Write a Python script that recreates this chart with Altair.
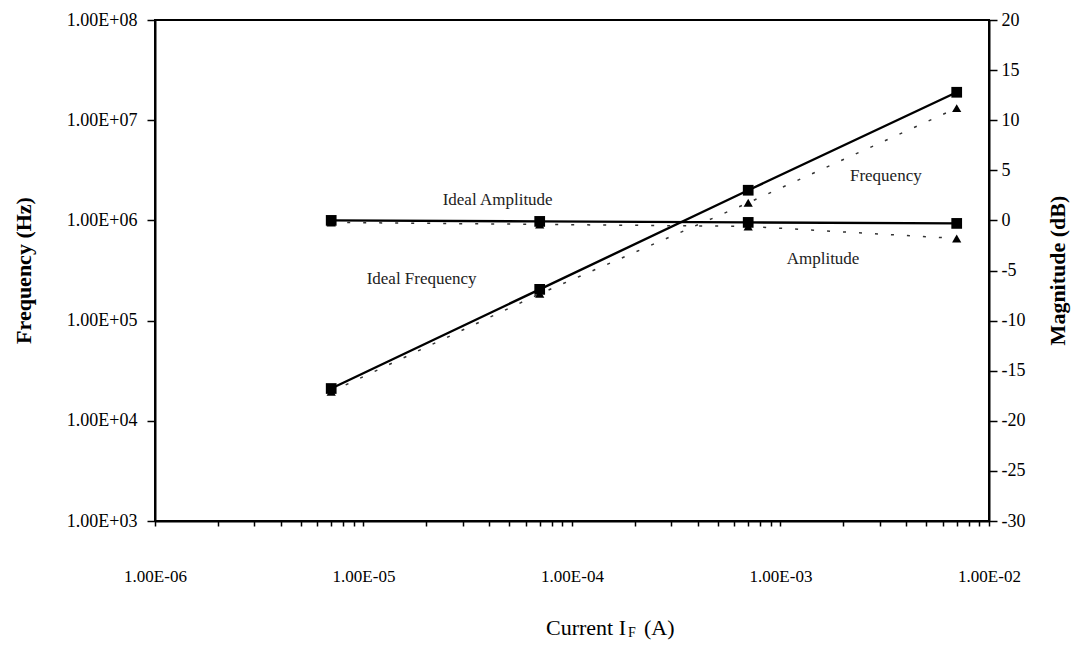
import altair as alt
import pandas as pd

# ---- data ----
currents = [7.0e-6, 7.0e-5, 7.0e-4, 7.0e-3]
ideal_frequency = [2.1e4, 2.05e5, 2.0e6, 1.9e7]
measured_frequency = [1.95e4, 1.85e5, 1.5e6, 1.32e7]
ideal_amplitude = [0.0, -0.1, -0.2, -0.3]
measured_amplitude = [-0.2, -0.4, -0.6, -1.8]

x_ticks = [m * 10.0 ** e for e in range(-6, -2) for m in range(1, 10)] + [1e-2]
left_ticks = [1e3, 1e4, 1e5, 1e6, 1e7, 1e8]
right_ticks = list(range(-30, 21, 5))

note_text = ["Ideal Amplitude", "Amplitude", "Frequency", "Ideal Frequency"]
note_x = [4.4e-5, 1.6e-3, 3.2e-3, 1.9e-5]
note_db = [2.0, -3.9, 4.4, -5.8]

x_title_parts = ["Current I", "F", "(A)"]

FONT = "Liberation Serif"
W, H = 834, 501

freq_df = pd.DataFrame({
    "current": currents * 2,
    "freq": ideal_frequency + measured_frequency,
    "series": ["Ideal"] * 4 + ["Measured"] * 4,
})
amp_df = pd.DataFrame({
    "current": currents * 2,
    "db": ideal_amplitude + measured_amplitude,
    "series": ["Ideal"] * 4 + ["Measured"] * 4,
})
notes_df = pd.DataFrame({"text": note_text, "current": note_x, "db": note_db})

x_enc = alt.X(
    "current:Q",
    scale=alt.Scale(type="log", domain=[1e-6, 1e-2]),
    axis=alt.Axis(
        values=x_ticks,
        labelExpr="abs(log(datum.value)/LN10 - round(log(datum.value)/LN10)) < 0.001 ? '1.00E-0' + (-round(log(datum.value)/LN10)) : ''",
        tickSize=5,
        labelPadding=42,
        labelFontSize=17,
        title=None,
        labelFlush=False,
        labelOverlap=False,
    ),
)

y_freq = alt.Y(
    "freq:Q",
    scale=alt.Scale(type="log", domain=[1e3, 1e8]),
    axis=alt.Axis(
        orient="left",
        values=left_ticks,
        labelExpr="'1.00E+0' + round(log(datum.value)/LN10)",
        tickSize=8,
        labelPadding=10,
        title="Frequency (Hz)",
        titleFontWeight="bold",
        titleX=-120,
        titleY=250,
        titleAngle=270,
        labelFlush=False,
    ),
)

y_amp = alt.Y(
    "db:Q",
    scale=alt.Scale(domain=[-30, 20]),
    axis=alt.Axis(
        orient="right",
        values=right_ticks,
        labelExpr="'' + datum.value",
        tickSize=8,
        labelPadding=4,
        title="Magnitude (dB)",
        titleFontWeight="bold",
        titleX=80,
        titleY=250,
        titleAngle=270,
        labelFlush=False,
    ),
)

fbase = alt.Chart(freq_df)
f_ideal_line = fbase.transform_filter("datum.series == 'Ideal'").mark_line(
    color="black", strokeWidth=2.4).encode(x=x_enc, y=y_freq)
f_meas_line = fbase.transform_filter("datum.series == 'Measured'").mark_line(
    color="#333333", strokeWidth=1.5, strokeDash=[3, 13]).encode(x=x_enc, y=y_freq)
f_meas_pts = fbase.transform_filter("datum.series == 'Measured'").mark_point(
    shape="triangle-up", filled=True, size=85, color="black", opacity=1).encode(x=x_enc, y=y_freq)
f_ideal_pts = fbase.transform_filter("datum.series == 'Ideal'").mark_point(
    shape="square", filled=True, size=115, color="black", opacity=1).encode(x=x_enc, y=y_freq)

t1 = alt.Chart(pd.DataFrame({"t": [x_title_parts[0]]})).mark_text(
    font=FONT, fontSize=22, align="right", baseline="middle", color="black"
).encode(text="t:N", x=alt.value(471), y=alt.value(608))
t2 = alt.Chart(pd.DataFrame({"t": [x_title_parts[1]]})).mark_text(
    font=FONT, fontSize=14, align="left", baseline="middle", color="black"
).encode(text="t:N", x=alt.value(473), y=alt.value(613))
t3 = alt.Chart(pd.DataFrame({"t": [x_title_parts[2]]})).mark_text(
    font=FONT, fontSize=22, align="left", baseline="middle", color="black"
).encode(text="t:N", x=alt.value(489), y=alt.value(608))

freq_layer = alt.layer(f_ideal_line, f_meas_line, f_meas_pts, f_ideal_pts, t1, t2, t3)

abase = alt.Chart(amp_df)
a_ideal_line = abase.transform_filter("datum.series == 'Ideal'").mark_line(
    color="black", strokeWidth=2.4).encode(x=x_enc, y=y_amp)
a_meas_line = abase.transform_filter("datum.series == 'Measured'").mark_line(
    color="#333333", strokeWidth=1.5, strokeDash=[3, 13]).encode(x=x_enc, y=y_amp)
a_meas_pts = abase.transform_filter("datum.series == 'Measured'").mark_point(
    shape="triangle-up", filled=True, size=85, color="black", opacity=1).encode(x=x_enc, y=y_amp)
a_ideal_pts = abase.transform_filter("datum.series == 'Ideal'").mark_point(
    shape="square", filled=True, size=115, color="black", opacity=1).encode(x=x_enc, y=y_amp)
a_notes = alt.Chart(notes_df).mark_text(
    font=FONT, fontSize=17, color="#222222", align="center", baseline="middle"
).encode(x=x_enc, y=y_amp, text="text:N")

amp_layer = alt.layer(a_ideal_line, a_meas_line, a_meas_pts, a_ideal_pts, a_notes)

chart = (
    alt.layer(freq_layer, amp_layer)
    .resolve_scale(y="independent")
    .properties(
        width=W,
        height=H,
        autosize=alt.AutoSizeParams(type="none"),
        padding={"left": 147, "top": 12, "right": 88, "bottom": 119},
        background="white",
    )
    .configure_view(stroke="black", strokeWidth=2)
    .configure_axis(
        labelFont=FONT,
        titleFont=FONT,
        labelFontSize=18,
        titleFontSize=22,
        labelColor="black",
        titleColor="black",
        domainColor="black",
        domainWidth=2,
        tickColor="black",
        tickWidth=1.5,
        grid=False,
    )
)

chart.save("out.html", embed_options={"renderer": "svg", "actions": False})
